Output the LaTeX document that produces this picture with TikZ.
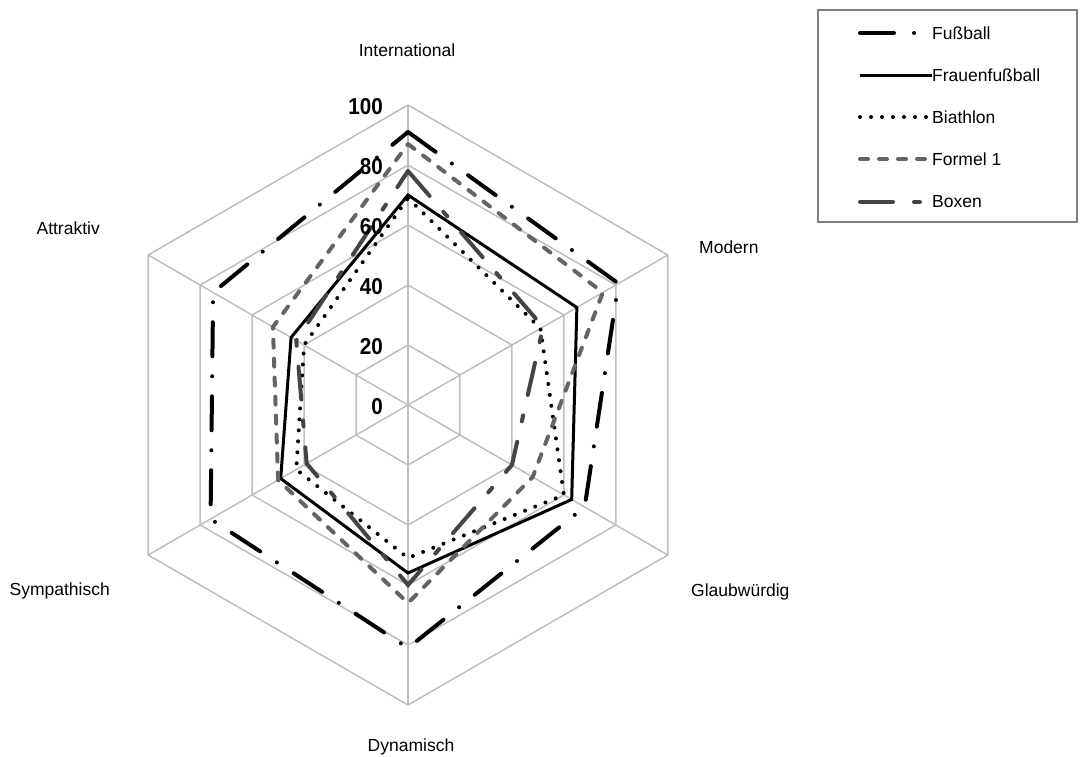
\documentclass[tikz,border=0pt]{standalone}
\usepackage{fontspec}
\setmainfont{Liberation Sans}
\newfontfamily\tickfont[FakeStretch=0.9]{Liberation Sans}
\definecolor{gridgray}{RGB}{190,190,190}
\definecolor{formelgray}{RGB}{100,100,100}
\definecolor{boxengray}{RGB}{68,68,68}
\definecolor{framegray}{RGB}{128,128,128}

\begin{document}
\begin{tikzpicture}[x=1pt,y=1pt]

  % Definitions
  \tikzstyle{gridline} = [draw=gridgray, line width=1.5pt]
  \tikzstyle{axislabel} = [inner sep=0pt, font=\fontsize{17.5}{21}\selectfont]
  \tikzstyle{ticklabel} = [inner sep=0pt, anchor=east, font=\tickfont\bfseries\fontsize{23}{23}\selectfont]
  \tikzstyle{legendbox} = [rectangle, draw=framegray, line width=1.5pt, minimum width=259, minimum height=212]
  \tikzstyle{legendtext} = [inner sep=0pt, anchor=west, font=\fontsize{17.5}{21}\selectfont]
  \tikzstyle{fussball} = [black, line width=4pt, line cap=round, dash pattern=on 34pt off 20pt on 0pt off 20pt]
  \tikzstyle{frauen} = [black, line width=3pt]
  \tikzstyle{biathlon} = [black, line width=4pt, line cap=round, dash pattern=on 0pt off 11pt]
  \tikzstyle{formel} = [formelgray, line width=4pt, line cap=round, dash pattern=on 8pt off 11pt]
  \tikzstyle{boxen} = [boxengray, line width=4pt, line cap=round, dash pattern=on 33pt off 21pt on 6pt off 21pt]

  \useasboundingbox (0,0) rectangle (1081,-756);

  \coordinate (O) at (408,-405);

  % net and series
  \begin{scope}[shift={(O)}, scale=3]
    \foreach \r in {20,40,60,80,100}
      \draw[gridline] (90:\r) -- (30:\r) -- (-30:\r) -- (-90:\r) -- (210:\r) -- (150:\r) -- cycle;
    \foreach \a in {90,30,-30,-90,210,150}
      \draw[gridline] (0,0) -- (\a:100);

    \draw[fussball] (90:91) -- (30:81) -- (-30:68) -- (-90:81) -- (210:76) -- (150:75) -- cycle;
    \draw[frauen] (90:70) -- (30:65) -- (-30:63) -- (-90:56) -- (210:49) -- (150:45) -- cycle;
    \draw[biathlon] (90:69) -- (30:51) -- (-30:60) -- (-90:51) -- (210:43) -- (150:40) -- cycle;
    \draw[formel] (90:87) -- (30:75) -- (-30:48) -- (-90:66) -- (210:50) -- (150:52) -- cycle;
    \draw[boxen] (90:78) -- (30:52) -- (-30:40) -- (-90:60) -- (210:39) -- (150:43) -- cycle;
  \end{scope}

  % scale
  \foreach \v in {0,20,40,60,80,100}
    \node[ticklabel] (t\v) at (383,{3*\v-407}) {\v};

  % axes
  \node[axislabel, anchor=base] (intl) at (407,-56) {International};
  \node[axislabel, anchor=base west] (modern) at (699,-253) {Modern};
  \node[axislabel, anchor=base west] (glaub) at (691,-596) {Glaubwürdig};
  \node[axislabel, anchor=base] (dyn) at (411,-751) {Dynamisch};
  \node[axislabel, anchor=base east] (symp) at (110,-595) {Sympathisch};
  \node[axislabel, anchor=base east] (attr) at (100,-234) {Attraktiv};

  % legend
  \node[legendbox] (legend) at (947.5,-116) {};
  \foreach \s/\t/\y [count=\i] in {fussball/Fußball/33, frauen/Frauenfußball/75, biathlon/Biathlon/117, formel/Formel 1/159, boxen/Boxen/202} {
    \node[legendtext] (lt\i) at (932,-\y) {\t};
    \coordinate (ls\i) at (860,-\y);
    \draw[\s] (ls\i) -- (lt\i.west);
  }

\end{tikzpicture}
\end{document}
